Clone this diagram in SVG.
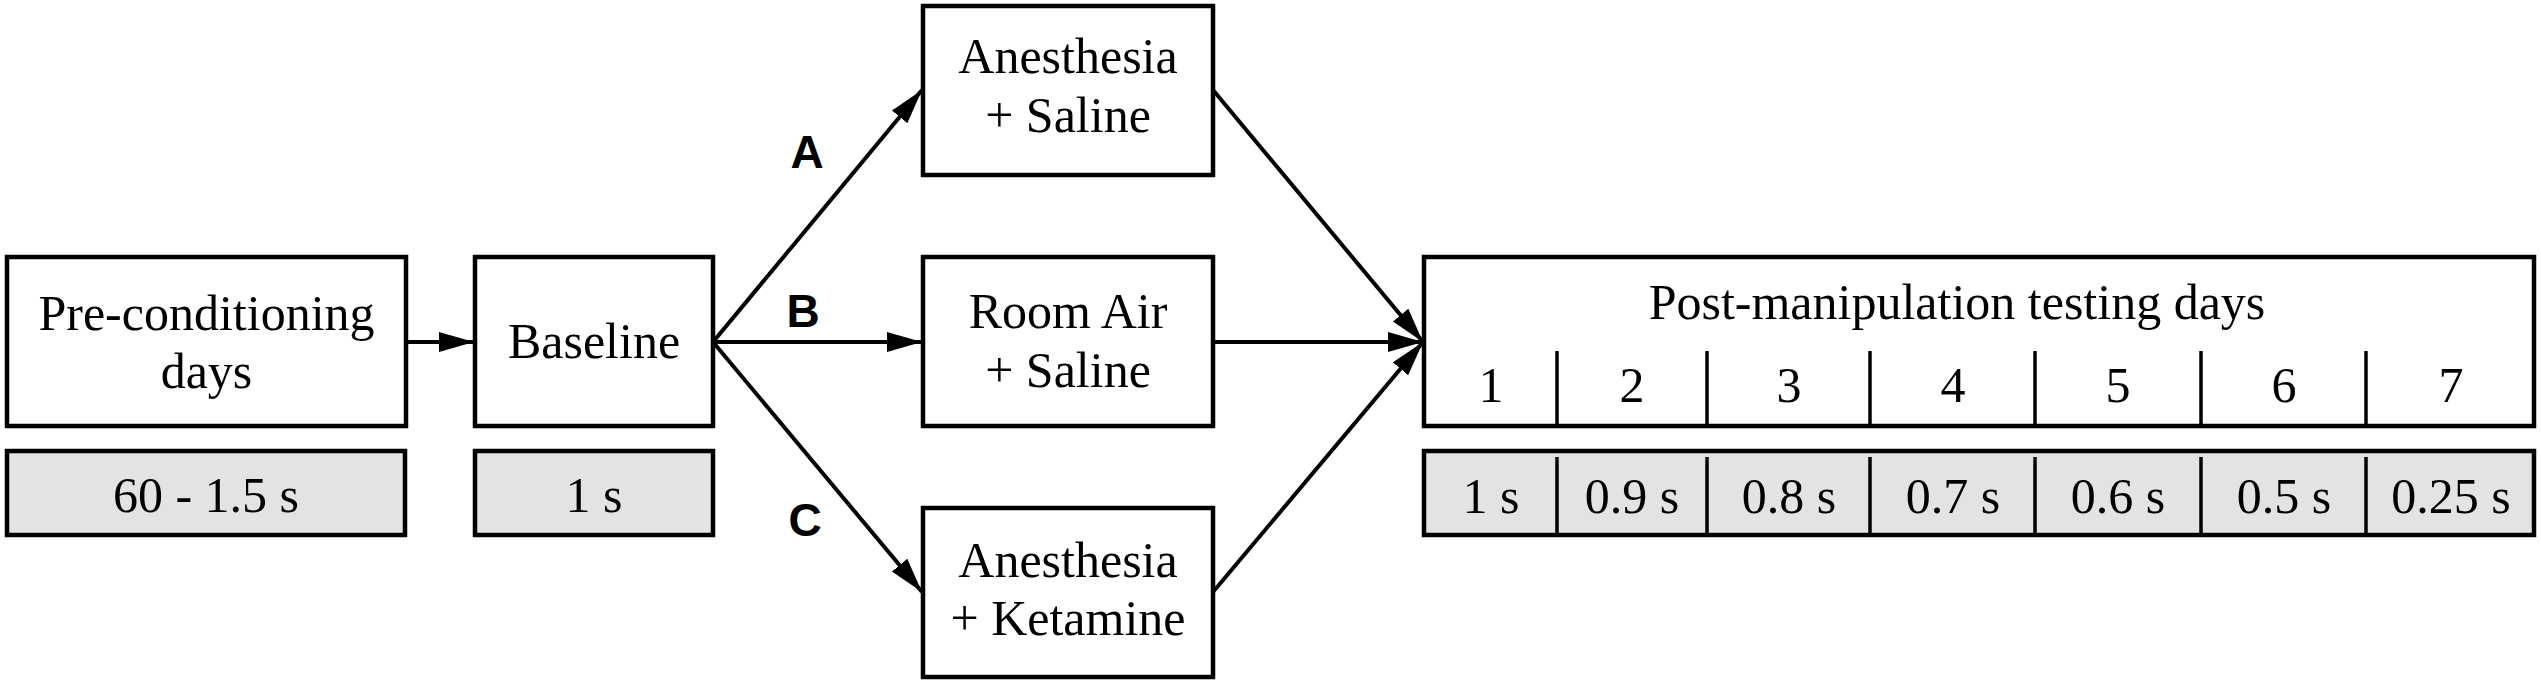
<svg xmlns="http://www.w3.org/2000/svg" width="2541" height="684" viewBox="0 0 2541 684">
<style>
.box{fill:#fff;stroke:#000;stroke-width:4.5}
.gbox{fill:#e3e3e3;stroke:#000;stroke-width:4.5}
.div{stroke:#000;stroke-width:3.5}
.t{font-family:"Liberation Serif","Times New Roman",serif;font-size:50px;fill:#000;text-anchor:middle}
.lbl{font-family:"Liberation Sans",Arial,sans-serif;font-size:46px;font-weight:bold;fill:#000;text-anchor:middle}
.c{stroke:#000;stroke-width:4;fill:none;marker-end:url(#ah)}
</style>
<defs>
<marker id="ah" markerUnits="userSpaceOnUse" markerWidth="36" markerHeight="22" refX="35" refY="10" orient="auto">
<path d="M0,0 L35,10 L0,20 Z" fill="#000"/>
</marker>
</defs>
<rect width="2541" height="684" fill="#fff"/>
<g id="connectors">
<line class="c" x1="406" y1="342" x2="474" y2="342"/>
<line class="c" x1="713" y1="342" x2="922" y2="90"/>
<line class="c" x1="713" y1="342" x2="922" y2="342"/>
<line class="c" x1="713" y1="342" x2="922" y2="592"/>
<line class="c" x1="1213" y1="90" x2="1423" y2="342"/>
<line class="c" x1="1213" y1="342" x2="1423" y2="342"/>
<line class="c" x1="1213" y1="592" x2="1423" y2="342"/>
<text class="lbl" x="807" y="168">A</text>
<text class="lbl" x="803" y="327">B</text>
<text class="lbl" x="805" y="536">C</text>
</g>
<g id="preconditioning">
<rect class="box" x="7" y="257" width="399" height="169"/>
<text class="t" x="206.5" y="330">Pre-conditioning</text>
<text class="t" x="206.5" y="388">days</text>
</g>
<g id="preconditioning-time">
<rect class="gbox" x="7" y="451" width="398" height="84"/>
<text class="t" x="206" y="512">60 - 1.5 s</text>
</g>
<g id="baseline">
<rect class="box" x="475" y="257" width="238" height="169"/>
<text class="t" x="594" y="358">Baseline</text>
</g>
<g id="baseline-time">
<rect class="gbox" x="475" y="451" width="238" height="84"/>
<text class="t" x="594" y="512">1 s</text>
</g>
<g id="anesthesia-saline">
<rect class="box" x="923" y="6" width="290" height="169"/>
<text class="t" x="1068" y="73">Anesthesia</text>
<text class="t" x="1068" y="132">+ Saline</text>
</g>
<g id="roomair-saline">
<rect class="box" x="923" y="257" width="290" height="169"/>
<text class="t" x="1068" y="328">Room Air</text>
<text class="t" x="1068" y="387">+ Saline</text>
</g>
<g id="anesthesia-ketamine">
<rect class="box" x="923" y="508" width="290" height="169"/>
<text class="t" x="1068" y="577">Anesthesia</text>
<text class="t" x="1068" y="635">+ Ketamine</text>
</g>
<g id="post-manipulation">
<rect class="box" x="1424" y="257" width="1110" height="169"/>
<text class="t" x="1957" y="319">Post-manipulation testing days</text>
<line class="div" x1="1557" y1="351" x2="1557" y2="426"/>
<line class="div" x1="1707" y1="351" x2="1707" y2="426"/>
<line class="div" x1="1870" y1="351" x2="1870" y2="426"/>
<line class="div" x1="2035" y1="351" x2="2035" y2="426"/>
<line class="div" x1="2201" y1="351" x2="2201" y2="426"/>
<line class="div" x1="2366" y1="351" x2="2366" y2="426"/>
<text class="t" x="1491" y="402">1</text>
<text class="t" x="1632" y="402">2</text>
<text class="t" x="1789" y="402">3</text>
<text class="t" x="1953" y="402">4</text>
<text class="t" x="2118" y="402">5</text>
<text class="t" x="2284" y="402">6</text>
<text class="t" x="2451" y="402">7</text>
</g>
<g id="post-manipulation-times">
<rect class="gbox" x="1424" y="451" width="1110" height="84"/>
<line class="div" x1="1557" y1="457" x2="1557" y2="535"/>
<line class="div" x1="1707" y1="457" x2="1707" y2="535"/>
<line class="div" x1="1870" y1="457" x2="1870" y2="535"/>
<line class="div" x1="2035" y1="457" x2="2035" y2="535"/>
<line class="div" x1="2201" y1="457" x2="2201" y2="535"/>
<line class="div" x1="2366" y1="457" x2="2366" y2="535"/>
<text class="t" x="1491" y="513">1 s</text>
<text class="t" x="1632" y="513">0.9 s</text>
<text class="t" x="1789" y="513">0.8 s</text>
<text class="t" x="1953" y="513">0.7 s</text>
<text class="t" x="2118" y="513">0.6 s</text>
<text class="t" x="2284" y="513">0.5 s</text>
<text class="t" x="2451" y="513">0.25 s</text>
</g>
</svg>
